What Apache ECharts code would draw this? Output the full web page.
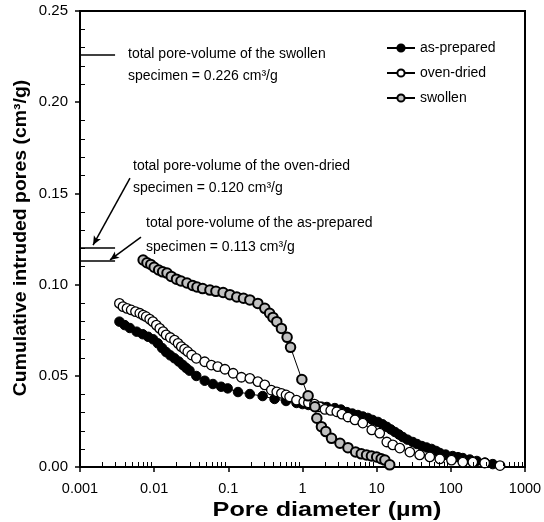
<!DOCTYPE html>
<html><head><meta charset="utf-8">
<script src="https://cdn.jsdelivr.net/npm/echarts@6/dist/echarts.min.js"></script>
<style>html,body{margin:0;padding:0;background:#fff}#c{width:544px;height:522px}</style>
</head><body><div id="c"></div>
<script>
// ---- data (pore diameter in µm, cumulative intruded pore volume in cm3/g) ----
const asPreparedD = [0.0034,0.0040,0.0047,0.0058,0.0070,0.0083,0.0097,0.0112,0.0128,0.0145,0.0165,0.0188,0.0215,0.0244,0.0270,0.030,0.037,0.048,0.062,0.080,0.098,0.135,0.195,0.29,0.42,0.60,0.83,1.0,1.2,1.5,1.8,2.13,2.73,3.3,3.96,4.7,5.58,6.5,7.6,8.8,10.4,12.0,13.7,15.5,17.6,20.0,22.5,26.0,30.7,35.0,40.6,47.0,55,63,71,85,106,125,145,180,224,290,368];
const asPreparedV = [0.0797,0.0778,0.0762,0.0742,0.0728,0.0714,0.0700,0.0678,0.0652,0.0630,0.0612,0.0596,0.0578,0.0559,0.0543,0.0528,0.0499,0.0473,0.0455,0.0440,0.0431,0.0411,0.0400,0.0389,0.0373,0.0362,0.0351,0.0345,0.0340,0.0335,0.0331,0.0329,0.0323,0.0315,0.0301,0.0293,0.0285,0.0277,0.0269,0.0258,0.0247,0.0234,0.0220,0.0206,0.0192,0.0178,0.0164,0.0150,0.0137,0.0126,0.0115,0.0107,0.0099,0.0088,0.0077,0.0068,0.0060,0.0054,0.0049,0.0041,0.0033,0.0024,0.0016];
const ovenDriedD = [0.0034,0.0038,0.0043,0.0049,0.0056,0.0064,0.0071,0.0078,0.0087,0.0096,0.0107,0.0119,0.0132,0.0145,0.0165,0.0188,0.0210,0.0232,0.0257,0.0284,0.032,0.037,0.048,0.059,0.072,0.090,0.116,0.150,0.195,0.25,0.31,0.38,0.45,0.52,0.60,0.67,0.83,1.04,1.2,1.45,1.7,2.0,2.4,2.9,3.4,4.1,5.1,6.5,8.6,11.0,13.7,16.5,20.5,28,38,52,71,102,145,198,286,460];
const ovenDriedV = [0.0897,0.0879,0.0870,0.0861,0.0852,0.0843,0.0833,0.0824,0.0811,0.0797,0.0778,0.0760,0.0742,0.0724,0.0710,0.0696,0.0678,0.0660,0.0646,0.0632,0.0614,0.0596,0.0577,0.0559,0.0550,0.0536,0.0514,0.0492,0.0486,0.0468,0.0450,0.0422,0.0412,0.0404,0.0395,0.0385,0.0367,0.0358,0.0352,0.0345,0.0330,0.0316,0.0310,0.0303,0.0290,0.0274,0.0258,0.0241,0.0203,0.0186,0.0137,0.0121,0.0104,0.0082,0.0066,0.0055,0.0044,0.0038,0.0027,0.0027,0.0022,0.0008];
const swollenD = [0.0071,0.0080,0.0090,0.0100,0.0115,0.0130,0.0149,0.0170,0.0200,0.0230,0.0277,0.0330,0.0378,0.045,0.0565,0.068,0.085,0.105,0.130,0.160,0.195,0.25,0.31,0.36,0.40,0.45,0.52,0.62,0.69,0.98,1.19,1.47,1.56,1.80,2.06,2.46,3.2,4.1,5.2,6.2,7.3,8.5,10.0,11.5,12.9,15.0];
const swollenV = [0.1135,0.1120,0.1110,0.1095,0.1080,0.1070,0.1063,0.1045,0.1030,0.1020,0.1009,0.0995,0.0987,0.0978,0.0970,0.0963,0.0957,0.0945,0.0932,0.0925,0.0916,0.0897,0.0870,0.0843,0.0820,0.0797,0.0760,0.0711,0.0656,0.0480,0.0390,0.0330,0.0267,0.0221,0.0194,0.0157,0.0130,0.0106,0.0082,0.0072,0.0066,0.0060,0.0055,0.0045,0.0038,0.0012];

const seriesNames = ['as-prepared','oven-dried','swollen'];
const xMinorTicks = [];
for (let e = -3; e < 3; e++) for (let k = 2; k <= 9; k++) xMinorTicks.push(k * Math.pow(10, e));
const yMinorTicks = [];
for (let i = 1; i < 25; i++) if (i % 5 !== 0) yMinorTicks.push(i / 100);

// annotation totals (cm3/g) and label texts
const totals = {swollen: 0.226, ovenDried: 0.120, asPrepared: 0.113};
const noteTexts = [
  ['total pore-volume of the swollen', 'specimen = 0.226 cm³/g'],
  ['total pore-volume of the oven-dried', 'specimen = 0.120 cm³/g'],
  ['total pore-volume of the as-prepared', 'specimen = 0.113 cm³/g']
];
const xTitle = 'Pore diameter (µm)';
const yTitle = 'Cumulative intruded pores (cm³/g)';

function pairs(d, v) { return d.map((x, i) => [x, v[i]]); }

const font = "'Liberation Sans', Arial, Helvetica, sans-serif";
const chart = echarts.init(document.getElementById('c'), null, {renderer: 'canvas'});

const lineEnd = 0.00297;
const markLineData = [
  [{coord: [0.001, totals.swollen]}, {coord: [lineEnd, totals.swollen]}],
  [{coord: [0.001, totals.ovenDried]}, {coord: [lineEnd, totals.ovenDried]}],
  [{coord: [0.001, totals.asPrepared]}, {coord: [lineEnd, totals.asPrepared]}],
  [{coord: [0.00472, 0.1584]}, {coord: [0.00150, 0.1217], symbol: 'arrow', symbolSize: [6, 9]}],
  [{coord: [0.00664, 0.1260]}, {coord: [0.00254, 0.1135], symbol: 'arrow', symbolSize: [6, 9]}]
];

function mkSeries(name, d, v, fill, bw, z) {
  return {
    name: name, type: 'line', data: pairs(d, v),
    symbol: 'circle', symbolSize: 9.5, showSymbol: true,
    lineStyle: {color: '#000', width: 1},
    itemStyle: {color: fill, borderColor: '#000', borderWidth: bw},
    z: z, animation: false, clip: false
  };
}

const s1 = mkSeries(seriesNames[0], asPreparedD, asPreparedV, '#000', 1, 3);
const s2 = mkSeries(seriesNames[1], ovenDriedD, ovenDriedV, '#fff', 1.3, 4);
const s3 = mkSeries(seriesNames[2], swollenD, swollenV, '#c0c0c0', 2, 5);
s3.markLine = {
  silent: true, symbol: ['none', 'none'], animation: false,
  label: {show: false},
  lineStyle: {color: '#000', width: 1.5, type: 'solid'},
  data: markLineData
};

// minor tick marks drawn as a custom series positioned through the axes' scales
const tickSeries = {
  type: 'custom', silent: true, z: 10, clip: false, animation: false,
  data: xMinorTicks.map(v => [v, 0, 0]).concat(yMinorTicks.map(v => [0.001, v, 1])),
  encode: {x: 0, y: 1},
  renderItem: function (params, api) {
    const p = api.coord([api.value(0), api.value(1)]);
    const isY = api.value(2) === 1;
    const x = Math.round(p[0]), y = Math.round(p[1]);
    const shape = isY ? {x1: x + 1, y1: y + 0.5, x2: x + 5, y2: y + 0.5}
                      : {x1: x + 0.5, y1: y - 1, x2: x + 0.5, y2: y - 5};
    return {type: 'line', shape: shape, style: {stroke: '#000', lineWidth: 1}};
  }
};

const option = {
  animation: false,
  backgroundColor: '#fff',
  grid: {left: 80, right: 19, top: 11, bottom: 55, show: true, borderColor: '#000', borderWidth: 2, containLabel: false, outerBoundsMode: 'none'},
  legend: {
    data: seriesNames, orient: 'vertical', left: 381, top: 36,
    itemWidth: 28, itemHeight: 9, itemGap: 11,
    textStyle: {fontFamily: font, fontSize: 14, color: '#000'},
    selectedMode: false
  },
  xAxis: {
    type: 'log', logBase: 10, min: 0.001, max: 1000,
    axisLine: {onZero: false, lineStyle: {color: '#000', width: 2}},
    axisTick: {show: true, inside: false, length: 5, lineStyle: {color: '#000', width: 1.5}},
    axisLabel: {fontFamily: font, fontSize: 14.5, color: '#000', margin: 14,
      formatter: v => String(+Number(v).toPrecision(3))},
    splitLine: {show: false}
  },
  yAxis: {
    type: 'value', min: 0, max: 0.25, interval: 0.05,
    axisLine: {show: true, onZero: false, lineStyle: {color: '#000', width: 2}},
    axisTick: {show: true, inside: false, length: 5, lineStyle: {color: '#000', width: 1.5}},
    axisLabel: {fontFamily: font, fontSize: 15, color: '#000', margin: 12, formatter: v => v.toFixed(2)},
    splitLine: {show: false}
  },
  series: [s1, s2, s3, tickSeries],
  graphic: [
    {type: 'text', x: 327, y: 510, scaleX: 1.2, silent: true,
      style: {text: xTitle, font: 'bold 21px ' + font, fill: '#000', align: 'center', verticalAlign: 'middle'}},
    {type: 'text', x: 21, y: 238, rotation: Math.PI / 2, scaleX: 1.08, silent: true,
      style: {text: yTitle, font: 'bold 18px ' + font, fill: '#000', align: 'center', verticalAlign: 'middle'}},
    {type: 'text', left: 128, top: 47, style: {text: noteTexts[0][0], font: '14px ' + font, fill: '#000'}},
    {type: 'text', left: 128, top: 69, style: {text: noteTexts[0][1], font: '14px ' + font, fill: '#000'}},
    {type: 'text', left: 133, top: 159, style: {text: noteTexts[1][0], font: '14px ' + font, fill: '#000'}},
    {type: 'text', left: 133, top: 181, style: {text: noteTexts[1][1], font: '14px ' + font, fill: '#000'}},
    {type: 'text', left: 146, top: 216, style: {text: noteTexts[2][0], font: '14px ' + font, fill: '#000'}},
    {type: 'text', left: 146, top: 240, style: {text: noteTexts[2][1], font: '14px ' + font, fill: '#000'}}
  ]
};
chart.setOption(option);
</script></body></html>
